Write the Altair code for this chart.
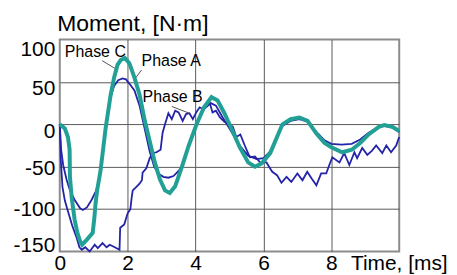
import altair as alt
import pandas as pd

# Phase C (teal, thick)
time_c = [0, 0.15, 0.24, 0.29, 0.3, 0.35, 0.44, 0.52, 0.6, 0.66, 0.8, 0.97, 1.02, 1.05, 1.1, 1.2,
          1.35, 1.5, 1.6, 1.7, 1.8, 1.92, 2.05, 2.2, 2.35, 2.5, 2.65, 2.8, 2.95, 3.1, 3.24, 3.4,
          3.6, 3.8, 4.03, 4.25, 4.47, 4.65, 4.85, 5.0, 5.3, 5.55, 5.75, 5.95, 6.2, 6.4, 6.56, 6.8,
          7.06, 7.3, 7.56, 7.8, 8.0, 8.32, 8.6, 8.85, 9.1, 9.4, 9.56, 9.8, 10.0]
moment_c = [0, -5, -15, -30, -62, -86, -113, -128, -138, -142, -136, -128, -110, -95, -78, -55,
            -5, 35, 55, 70, 76, 78, 72, 55, 35, 5, -20, -45, -65, -78, -81, -73,
            -50, -25, 0, 20, 32, 28, 13, 0, -27, -45, -50, -46, -34, -15, 0, 6,
            8, 4, -11, -22, -27, -33, -30, -22, -12, -3, -1, -3, -8]

# Phase A (dark blue, smooth)
time_a = [0, 0.04, 0.1, 0.2, 0.3, 0.45, 0.6, 0.68, 0.8, 0.94, 1.05, 1.1, 1.2, 1.35, 1.5, 1.6,
          1.72, 1.85, 1.95, 2.05, 2.2, 2.35, 2.5, 2.65, 2.78, 2.9, 3.05, 3.2, 3.35, 3.5, 3.62,
          3.8, 4.03, 4.25, 4.45, 4.6, 4.8, 5.0, 5.3, 5.55, 5.8, 6.0, 6.2, 6.4, 6.56, 6.8, 7.06,
          7.3, 7.56, 7.8, 8.0, 8.3, 8.6, 8.85, 9.1, 9.4, 9.56, 9.8, 10.0]
moment_a = [0, -30, -48, -65, -78, -90, -99, -101, -98, -89, -80, -75, -55, -5, 32, 45,
            52, 54, 53, 48, 40, 22, -5, -32, -50, -58, -62, -63, -61, -55, -48,
            -25, 0, 18, 25, 22, 8, -5, -25, -37, -41, -40, -32, -14, -2, 4, 6,
            3, -9, -19, -23, -24, -23, -18, -10, -3, -2, -4, -9]

# Phase B (dark blue, jagged)
time_b = [0, 0.03, 0.08, 0.15, 0.23, 0.38, 0.5, 0.58, 0.65, 0.75, 0.88, 1.03, 1.12, 1.26, 1.38,
          1.47, 1.62, 1.76, 1.78, 1.9, 2.0, 2.08, 2.12, 2.15, 2.25, 2.35, 2.42, 2.44, 2.55, 2.65,
          2.74, 2.85, 2.97, 3.03, 3.1, 3.2, 3.3, 3.4, 3.5, 3.62, 3.72, 3.82, 3.92, 4.02, 4.12,
          4.22, 4.32, 4.42, 4.5, 4.6, 4.72, 4.85, 5.0, 5.1, 5.2, 5.32, 5.45, 5.6, 5.75, 5.9,
          6.09, 6.18, 6.26, 6.4, 6.53, 6.68, 6.82, 7.0, 7.15, 7.29, 7.42, 7.56, 7.7, 7.85, 7.94,
          8.03, 8.24, 8.38, 8.53, 8.68, 8.76, 8.91, 9.06, 9.2, 9.32, 9.5, 9.62, 9.76, 9.91, 10.0]
moment_b = [0, -42, -74, -90, -101, -121, -134, -145, -148, -145, -150, -142, -146, -140, -145,
            -142, -145, -148, -122, -118, -105, -100, -86, -78, -74, -70, -66, -57, -52, -40,
            -34, -33, -30, -10, 0, 13, 6, 16, 14, 4, 12, 13, 6, 14, 20,
            18, 23, 25, 14, 16, 8, 3, 0, -3, -15, -12, -25, -39, -38, -45,
            -45, -51, -56, -60, -69, -62, -68, -58, -66, -56, -64, -72, -58, -58, -48,
            -39, -45, -34, -48, -33, -40, -28, -36, -31, -25, -34, -25, -33, -25, -15]

# annotations (data units)
label_text = ["Phase C", "Phase A", "Phase B"]
label_t = [0.15, 2.41, 2.44]
label_v = [85, 74, 32]
leader_t1 = [1.25, 2.41, 3.3]
leader_v1 = [75, 64, 21]
leader_t2 = [1.62, 2.24, 3.82]
leader_v2 = [66, 55, 13]

x_ticks = [0, 2, 4, 6, 8]
y_ticks = [-150, -100, -50, 0, 50, 100]

TEAL = "#23a096"
BLUE = "#2424a8"
FONT = "Liberation Sans"

df_c = pd.DataFrame({"t": time_c, "v": moment_c})
df_a = pd.DataFrame({"t": time_a, "v": moment_a})
df_b = pd.DataFrame({"t": time_b, "v": moment_b})
df_lab = pd.DataFrame({"label": label_text, "t": label_t, "v": label_v})
df_lead = pd.DataFrame({"t1": leader_t1, "v1": leader_v1, "t2": leader_t2, "v2": leader_v2})

xscale = alt.Scale(domain=[0, 10], nice=False, zero=False)
yscale = alt.Scale(domain=[-150, 100], nice=False, zero=False)

x_axis = alt.Axis(
    values=x_ticks, title="Time, [ms]", labelPadding=18, labelBaseline="alphabetic",
    tickSize=0, labelFlush=False,
    titleAlign="left", titleBaseline="alphabetic", titleX=292, titleY=18,
    titleAngle=0, titleFontSize=21,
    gridColor={"condition": {"test": "datum.value == 0", "value": "transparent"}, "value": "#5a5a5a"},
)
y_axis = alt.Axis(
    values=y_ticks, title="Moment, [N·m]", labelPadding=5, tickSize=0,
    labelExpr="'' + datum.value", labelFlush=False,
    labelOffset={"condition": [
        {"test": "datum.value == 100", "value": 10},
        {"test": "datum.value == 50", "value": 7},
        {"test": "datum.value == 0", "value": 7},
        {"test": "datum.value == -50", "value": 2},
        {"test": "datum.value == -150", "value": -6},
    ], "value": 0},
    titleAngle=0, titleAlign="left", titleBaseline="alphabetic", titleX=-3, titleY=-9,
    titleFontSize=23,
    gridColor={"condition": {"test": "datum.value == -150 || datum.value == 100", "value": "transparent"}, "value": "#5a5a5a"},
)

X = alt.X("t:Q", scale=xscale, axis=x_axis)
Y = alt.Y("v:Q", scale=yscale, axis=y_axis)

line_b = alt.Chart(df_b).mark_line(color=BLUE, strokeWidth=1.8).encode(x=X, y=Y)
line_a = alt.Chart(df_a).mark_line(color=BLUE, strokeWidth=1.8).encode(x="t:Q", y="v:Q")
line_c = alt.Chart(df_c).mark_line(color=TEAL, strokeWidth=4).encode(x="t:Q", y="v:Q")

leaders = alt.Chart(df_lead).mark_rule(color="#555555", strokeWidth=1).encode(
    x="t1:Q", y="v1:Q", x2="t2:Q", y2="v2:Q")
labels = alt.Chart(df_lab).mark_text(
    align="left", baseline="middle", font=FONT, fontSize=16, color="black"
).encode(x="t:Q", y="v:Q", text="label:N")

chart = alt.layer(line_b, line_a, line_c, leaders, labels).properties(
    width=341, height=213,
    padding={"left": 52, "top": 31, "right": 50, "bottom": 23},
    autosize=alt.AutoSizeParams(type="none"),
).configure_view(
    stroke="#8c8c8c", strokeWidth=2
).configure_axis(
    domain=False, ticks=False, grid=True, gridWidth=1, gridOpacity=1,
    labelFont=FONT, labelFontSize=21, labelColor="black",
    titleFont=FONT, titleFontWeight="normal", titleColor="black",
)

chart.save("out.html", embed_options={"renderer": "svg", "actions": False})
